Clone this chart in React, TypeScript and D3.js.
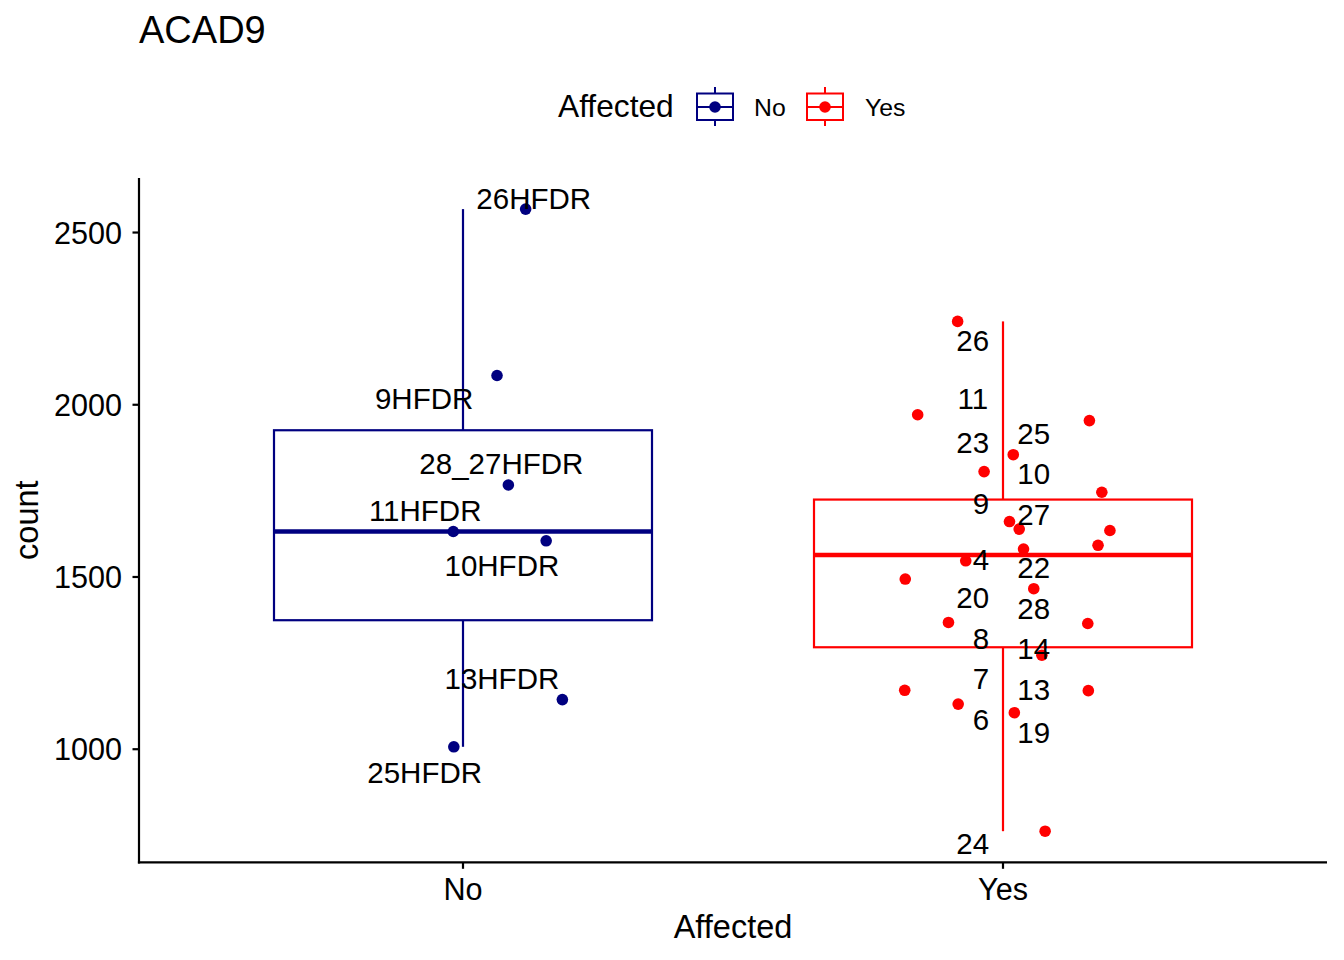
import React, { useEffect } from "react";
import * as d3 from "d3";

const categories = ["No", "Yes"];
const groupColors = ["#000080", "#FF0000"];

// counts per sample and the horizontal jitter (fraction of the category step)
const noCounts = [2568, 2085, 1767, 1632, 1605, 1144, 1007];
const noJitter = [0.116, 0.063, 0.084, -0.018, 0.154, 0.184, -0.017];
const yesCounts = [
  2242, 1971, 1954, 1855, 1806, 1746, 1661, 1639, 1635, 1592, 1581, 1547, 1494, 1466, 1368, 1365, 1273,
  1171, 1170, 1131, 1106, 762,
];
const yesJitter = [
  -0.084, -0.158, 0.16, 0.019, -0.035, 0.183, 0.012, 0.03, 0.198, 0.176, 0.038, -0.069, -0.181, 0.057,
  -0.101, 0.157, 0.072, -0.182, 0.158, -0.083, 0.021, 0.078,
];

// sample labels where the repel step left them
const noLabels = ["26HFDR", "9HFDR", "28_27HFDR", "11HFDR", "10HFDR", "13HFDR", "25HFDR"];
const noLabelCounts = [2599, 2018, 1830, 1693, 1535, 1206, 933];
const noLabelDx = [0.131, -0.072, 0.071, -0.07, 0.072, 0.072, -0.071];
const yesLabels = ["26", "11", "25", "23", "10", "9", "27", "4", "22", "20", "28", "8", "14", "7", "13", "6", "19", "24"];
const yesLabelCounts = [2187, 2018, 1918, 1891, 1801, 1715, 1682, 1550, 1528, 1441, 1408, 1323, 1293, 1207, 1174, 1087, 1049, 727];
const yesLabelDx = [
  -0.056, -0.056, 0.057, -0.056, 0.057, -0.041, 0.057, -0.041, 0.057, -0.056, 0.057, -0.041, 0.057, -0.041,
  0.057, -0.041, 0.057, -0.056,
];

const yTicks = [1000, 1500, 2000, 2500];

const FONT = "'Liberation Sans', Arial, Helvetica, sans-serif";

function boxStats(values: number[]) {
  const s = values.slice().sort(d3.ascending);
  const q1 = d3.quantileSorted(s, 0.25)!;
  const med = d3.quantileSorted(s, 0.5)!;
  const q3 = d3.quantileSorted(s, 0.75)!;
  const iqr = q3 - q1;
  const lo = d3.min(s.filter((v) => v >= q1 - 1.5 * iqr))!;
  const hi = d3.max(s.filter((v) => v <= q3 + 1.5 * iqr))!;
  return { q1, med, q3, lo, hi };
}

export default function App() {
  useEffect(() => {
    document.body.style.margin = "0";
  }, []);

  const W = 1344;
  const H = 960;
  const left = 139;
  const right = 1327;
  const top = 178;
  const bottom = 862.3;

  const groups = [
    { name: categories[0], counts: noCounts, jitter: noJitter, labels: noLabels, labelCounts: noLabelCounts, labelDx: noLabelDx, color: groupColors[0] },
    { name: categories[1], counts: yesCounts, jitter: yesJitter, labels: yesLabels, labelCounts: yesLabelCounts, labelDx: yesLabelDx, color: groupColors[1] },
  ];

  const all = [...noCounts, ...yesCounts];
  const [mn, mx] = d3.extent(all) as [number, number];
  const pad = (mx - mn) * 0.05;

  const x = d3.scalePoint<string>().domain(categories).range([left, right]).padding(0.6);
  const y = d3.scaleLinear().domain([mn - pad, mx + pad]).range([bottom, top]);
  const step = x.step();
  const boxW = step * 0.7;

  return (
    <svg width={W} height={H} style={{ display: "block", background: "#fff" }} fontFamily={FONT}>
      {/* title */}
      <text x={139} y={43.3} fontSize={38} fill="#000">
        ACAD9
      </text>

      {/* legend */}
      <text x={558} y={116.7} fontSize={31.7} fill="#000">
        Affected
      </text>
      {groups.map((g, i) => {
        const bx = i === 0 ? 697 : 807;
        const tx = i === 0 ? 754 : 865;
        return (
          <g key={g.name}>
            <line x1={bx + 18} x2={bx + 18} y1={87} y2={126} stroke={g.color} strokeWidth={2} />
            <rect x={bx} y={93.5} width={36} height={26.5} fill="#fff" stroke={g.color} strokeWidth={2} />
            <line x1={bx} x2={bx + 36} y1={107} y2={107} stroke={g.color} strokeWidth={2} />
            <circle cx={bx + 18} cy={107} r={5.8} fill={g.color} />
            <text x={tx} y={115.7} fontSize={24.8} fill="#000">
              {g.name}
            </text>
          </g>
        );
      })}

      {/* boxplots */}
      {groups.map((g) => {
        const cx = x(g.name)!;
        const st = boxStats(g.counts);
        return (
          <g key={"box" + g.name} stroke={g.color} fill="none">
            <line x1={cx} x2={cx} y1={y(st.q3)} y2={y(st.hi)} strokeWidth={2.2} />
            <line x1={cx} x2={cx} y1={y(st.q1)} y2={y(st.lo)} strokeWidth={2.2} />
            <rect x={cx - boxW / 2} y={y(st.q3)} width={boxW} height={y(st.q1) - y(st.q3)} fill="#fff" strokeWidth={2.2} />
            <line x1={cx - boxW / 2} x2={cx + boxW / 2} y1={y(st.med)} y2={y(st.med)} strokeWidth={4.4} />
          </g>
        );
      })}

      {/* points */}
      {groups.map((g) => {
        const cx = x(g.name)!;
        return (
          <g key={"pts" + g.name} fill={g.color}>
            {g.counts.map((v, i) => (
              <circle key={i} cx={cx + g.jitter[i] * step} cy={y(v)} r={5.8} />
            ))}
          </g>
        );
      })}

      {/* labels */}
      {groups.map((g) => {
        const cx = x(g.name)!;
        return (
          <g key={"lab" + g.name} fontSize={29.5} fill="#000" textAnchor="middle">
            {g.labels.map((t, i) => (
              <text key={t} x={cx + g.labelDx[i] * step} y={y(g.labelCounts[i])} dy="0.36em">
                {t}
              </text>
            ))}
          </g>
        );
      })}

      {/* axes */}
      <g stroke="#000" strokeWidth={2.2}>
        <line x1={left} x2={left} y1={top} y2={bottom + 1.1} />
        <line x1={left - 1.1} x2={right} y1={bottom} y2={bottom} />
        {yTicks.map((t) => (
          <line key={t} x1={left - 6.5} x2={left} y1={y(t)} y2={y(t)} />
        ))}
        {categories.map((c) => (
          <line key={c} x1={x(c)!} x2={x(c)!} y1={bottom} y2={bottom + 6.5} />
        ))}
      </g>
      <g fontSize={30.6} fill="#000">
        {yTicks.map((t) => (
          <text key={t} x={122} y={y(t)} dy="0.36em" textAnchor="end">
            {t}
          </text>
        ))}
        {categories.map((c) => (
          <text key={c} x={x(c)!} y={899.7} textAnchor="middle">
            {c}
          </text>
        ))}
      </g>

      {/* axis titles */}
      <text x={(left + right) / 2} y={938} fontSize={32.5} textAnchor="middle" fill="#000">
        Affected
      </text>
      <text transform={`translate(38,${(top + bottom) / 2}) rotate(-90)`} fontSize={32.5} textAnchor="middle" fill="#000">
        count
      </text>
    </svg>
  );
}
